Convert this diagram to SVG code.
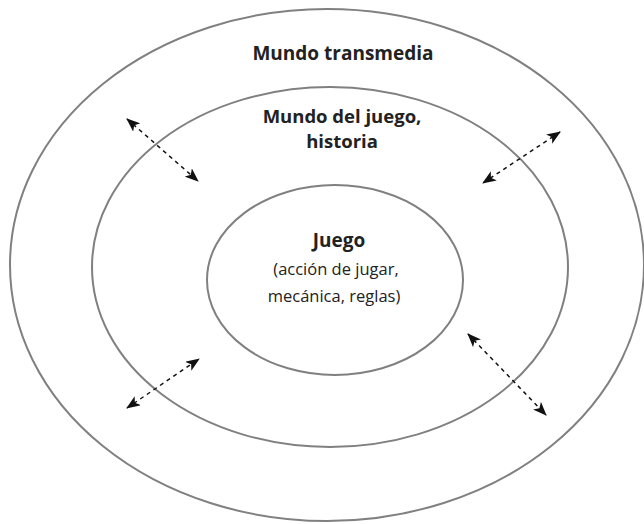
<svg xmlns="http://www.w3.org/2000/svg" width="644" height="524" viewBox="0 0 644 524">
<defs>
<marker id="ah" viewBox="0 0 14 11" refX="13" refY="5.5" markerWidth="14" markerHeight="11" markerUnits="userSpaceOnUse" orient="auto-start-reverse">
<path d="M0,0 L14,5.5 L0,11 L3.5,5.5 Z" fill="#111"/>
</marker>
</defs>
<style>
.ring{fill:none;stroke:#808080;stroke-width:2}
.arr{stroke:#111;stroke-width:1.5;stroke-dasharray:4,4;fill:none;marker-start:url(#ah);marker-end:url(#ah)}
.b{font-family:"Open Sans","Noto Sans",sans-serif;font-weight:bold;font-size:19px;fill:#222;text-anchor:middle}
.r{font-family:"Open Sans","Noto Sans",sans-serif;font-size:16.5px;fill:#222;text-anchor:middle}
</style>
<rect width="644" height="524" fill="#fff"/>
<g id="outer">
<ellipse class="ring" cx="327" cy="265" rx="317" ry="256"/>
<text class="b" x="343" y="60">Mundo transmedia</text>
</g>
<g id="middle">
<ellipse class="ring" cx="330" cy="267" rx="238" ry="180"/>
<text class="b" x="342" y="123" style="font-size:18.5px">Mundo del juego,</text>
<text class="b" x="342" y="148" style="font-size:18.5px">historia</text>
</g>
<g id="inner">
<ellipse class="ring" cx="335" cy="280" rx="128" ry="95"/>
<text class="b" x="339" y="247">Juego</text>
<text class="r" x="336" y="275">(acción de jugar,</text>
<text class="r" x="334" y="302">mecánica, reglas)</text>
</g>
<g id="connectors">
<line class="arr" x1="127" y1="119" x2="198" y2="181"/>
<line class="arr" x1="560" y1="132" x2="483" y2="183"/>
<line class="arr" x1="127" y1="408" x2="199" y2="359"/>
<line class="arr" x1="468" y1="334" x2="546" y2="415"/>
</g>
</svg>
